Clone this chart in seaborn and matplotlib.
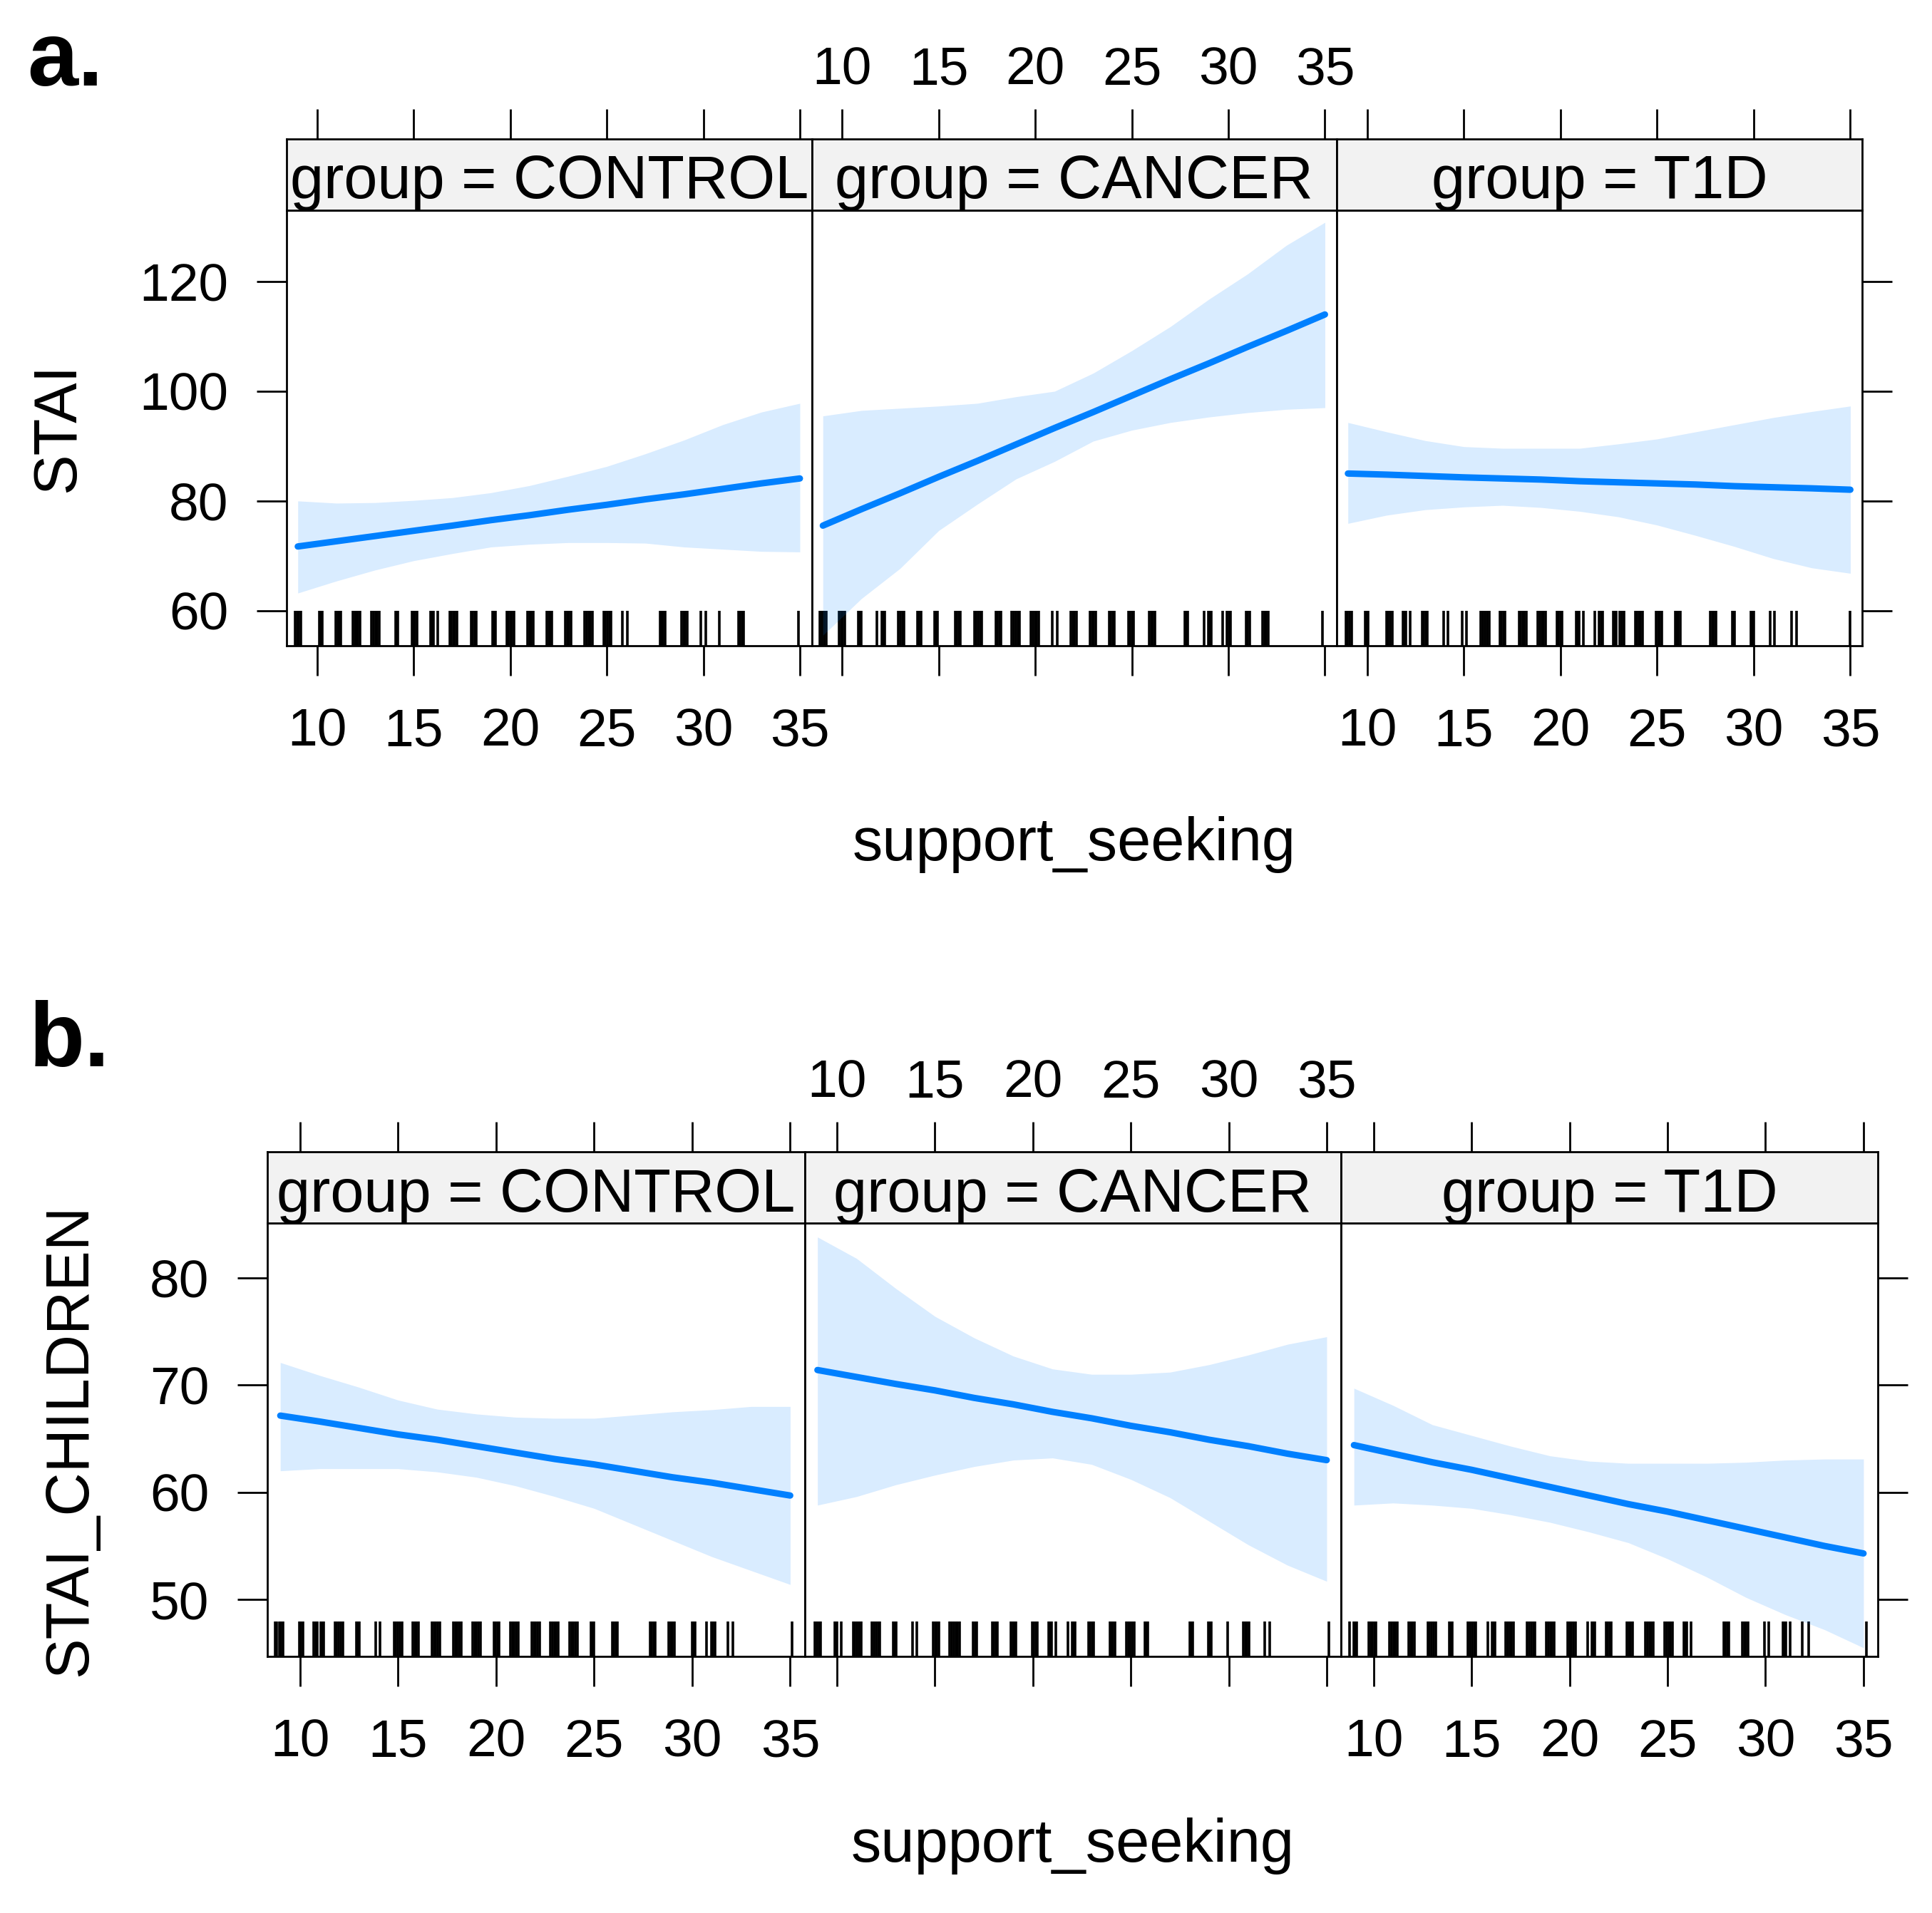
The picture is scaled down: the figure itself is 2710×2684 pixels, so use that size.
import pandas as pd
import seaborn as sns
import matplotlib.pyplot as plt

sns.set_style('white')
plt.rcParams['font.family'] = ['Liberation Sans', 'DejaVu Sans']
plt.rcParams['text.color'] = 'black'

groups = ['CONTROL', 'CANCER', 'T1D']
support_grid = [9, 11, 13, 15, 17, 19, 21, 23, 25, 27, 29, 31, 33, 35]
x_ticks = [10, 15, 20, 25, 30, 35]

# a. STAI effect of support_seeking by group (fit and 95% band)
stai_fit_control = [71.7, 72.65, 73.6, 74.56, 75.5, 76.5, 77.4, 78.4, 79.3, 80.3, 81.2, 82.2, 83.2, 84.1]
stai_lo_control = [63.2, 65.4, 67.4, 69.1, 70.4, 71.6, 72.1, 72.4, 72.4, 72.3, 71.6, 71.2, 70.8, 70.7]
stai_hi_control = [80.0, 79.6, 79.7, 80.1, 80.6, 81.5, 82.8, 84.5, 86.3, 88.6, 91.1, 93.9, 96.2, 97.8]

stai_fit_cancer = [75.5, 78.5, 81.4, 84.4, 87.3, 90.3, 93.3, 96.2, 99.2, 102.2, 105.1, 108.1, 111.0, 114.0]
stai_lo_cancer = [55.5, 62.2, 67.7, 74.6, 79.4, 84.0, 87.2, 90.9, 92.9, 94.3, 95.3, 96.1, 96.7, 97.0]
stai_hi_cancer = [95.5, 96.5, 96.9, 97.3, 97.8, 99.0, 100.0, 103.3, 107.4, 111.8, 116.8, 121.4, 126.6, 130.8]

stai_fit_t1d = [85.0, 84.8, 84.55, 84.3, 84.1, 83.9, 83.6, 83.4, 83.2, 83.0, 82.7, 82.5, 82.3, 82.05]
stai_lo_t1d = [75.9, 77.4, 78.4, 78.9, 79.2, 78.8, 78.1, 77.1, 75.6, 73.7, 71.7, 69.5, 67.8, 66.8]
stai_hi_t1d = [94.3, 92.6, 91.0, 89.9, 89.6, 89.6, 89.6, 90.4, 91.3, 92.6, 93.9, 95.2, 96.3, 97.3]

# b. STAI_CHILDREN
child_fit_control = [67.15, 66.6, 66.0, 65.4, 64.9, 64.3, 63.7, 63.1, 62.6, 62.0, 61.4, 60.9, 60.3, 59.7]
child_lo_control = [62.0, 62.2, 62.2, 62.2, 61.9, 61.4, 60.6, 59.6, 58.5, 57.0, 55.5, 54.0, 52.7, 51.4]
child_hi_control = [72.1, 70.9, 69.8, 68.6, 67.75, 67.3, 67.0, 66.9, 66.9, 67.2, 67.5, 67.7, 68.0, 68.0]

child_fit_cancer = [71.4, 70.75, 70.1, 69.5, 68.8, 68.2, 67.5, 66.9, 66.2, 65.6, 64.9, 64.3, 63.6, 63.0]
child_lo_cancer = [58.8, 59.6, 60.7, 61.6, 62.4, 63.0, 63.2, 62.6, 61.2, 59.5, 57.3, 55.1, 53.2, 51.7]
child_hi_cancer = [83.8, 81.8, 79.0, 76.4, 74.4, 72.7, 71.5, 71.0, 71.0, 71.2, 71.9, 72.8, 73.8, 74.5]

child_fit_t1d = [64.4, 63.6, 62.8, 62.1, 61.3, 60.5, 59.7, 58.9, 58.2, 57.4, 56.6, 55.8, 55.0, 54.3]
child_lo_t1d = [58.8, 59.0, 58.8, 58.5, 57.9, 57.2, 56.3, 55.3, 53.8, 52.1, 50.2, 48.6, 47.2, 45.5]
child_hi_t1d = [69.7, 68.1, 66.3, 65.3, 64.3, 63.4, 62.9, 62.7, 62.7, 62.7, 62.8, 63.0, 63.1, 63.1]

# observed (jittered) support_seeking values shown in the rugs
rug_stai_control = [8.88, 8.97, 9.06, 9.15, 10.13, 10.21, 10.28, 10.97, 11.06, 11.15, 11.24,
                    11.85, 11.95, 12.04, 12.13, 12.23, 12.82, 12.92, 13.02, 13.11, 13.21,
                    14.05, 14.12, 14.19, 14.91, 14.99, 15.08, 15.16, 15.89, 15.96, 16.04, 16.24,
                    16.86, 16.96, 17.06, 17.15, 17.25, 17.97, 18.06, 18.15, 18.24, 19.08, 19.15, 19.22,
                    19.81, 19.91, 20.0, 20.1, 20.2, 20.9, 21.0, 21.1, 21.19, 21.9, 21.99, 22.07, 22.16,
                    22.87, 22.96, 23.05, 23.14, 23.86, 23.96, 24.06, 24.15, 24.25,
                    24.84, 24.94, 25.04, 25.13, 25.23, 25.8, 26.05, 27.75, 27.84, 27.93, 28.02,
                    28.88, 28.97, 29.06, 29.15, 29.87, 30.11, 30.83, 31.82, 31.91, 32.0, 32.08, 34.94]
rug_stai_cancer = [8.86, 8.97, 9.08, 9.19, 9.85, 9.94, 10.04, 10.13, 10.83, 10.91, 10.99, 11.81,
                   12.05, 12.13, 12.21, 12.92, 13.02, 13.11, 13.21, 13.91, 13.99, 14.07,
                   14.77, 14.85, 14.93, 15.86, 15.95, 16.04, 16.13, 16.84, 16.94, 17.04, 17.14, 17.24,
                   17.95, 18.04, 18.13, 18.22, 18.79, 18.89, 18.99, 19.09, 19.19,
                   19.78, 19.88, 19.98, 20.07, 20.17, 20.89, 21.14, 21.85, 21.95, 22.04, 22.14,
                   22.84, 22.93, 23.03, 23.12, 23.82, 23.92, 24.01, 24.11, 24.82, 24.91, 25.0, 25.09,
                   25.91, 26.0, 26.09, 26.18, 27.75, 27.82, 27.9, 28.75, 28.97, 29.05, 29.13, 29.71,
                   29.94, 30.02, 30.1, 30.92, 31.01, 31.1, 31.78, 31.87, 31.96, 32.05, 34.89]
rug_stai_t1d = [8.9, 8.99, 9.09, 9.18, 9.88, 9.96, 10.04, 10.99, 11.09, 11.18, 11.28,
                11.85, 11.93, 12.01, 12.22, 12.84, 12.93, 13.02, 13.1, 13.95, 14.19, 14.92, 15.15,
                15.89, 15.99, 16.1, 16.2, 16.31, 16.86, 16.95, 17.04, 17.13,
                17.85, 17.95, 18.05, 18.14, 18.24, 18.83, 18.93, 19.03, 19.12, 19.22,
                19.81, 19.9, 19.99, 20.08, 20.8, 20.88, 20.96, 21.18, 21.79, 22.01, 22.09, 22.17,
                22.75, 22.82, 22.89, 23.08, 23.18, 23.28, 23.86, 23.96, 24.06, 24.15, 24.25,
                24.96, 25.05, 25.14, 25.23, 25.93, 26.02, 26.11, 26.2, 27.75, 27.85, 27.94, 28.04,
                28.88, 28.95, 29.02, 29.86, 29.93, 30.0, 30.86, 31.09, 31.97, 32.2, 35.0]
rug_child_control = [8.73, 8.83, 8.94, 9.04, 9.14, 9.99, 10.06, 10.14, 10.71, 10.8, 10.88,
                     11.06, 11.14, 11.22, 11.78, 11.88, 11.98, 12.08, 12.18, 12.88, 12.95, 13.03,
                     13.85, 14.1, 14.8, 14.9, 15.0, 15.1, 15.2, 15.76, 15.86, 15.95, 16.05,
                     16.74, 16.84, 16.93, 17.03, 17.12, 17.82, 17.92, 18.02, 18.12, 18.22,
                     18.8, 18.9, 19.0, 19.1, 19.2, 19.9, 19.99, 20.08, 20.17,
                     20.73, 20.83, 20.93, 21.03, 21.13, 21.82, 21.92, 22.02, 22.12, 22.22,
                     22.78, 22.88, 22.98, 23.08, 23.17, 23.75, 23.85, 23.95, 24.05, 24.15,
                     24.84, 24.92, 25.0, 25.92, 26.01, 26.1, 26.19, 27.86, 27.95, 28.04, 28.13,
                     28.82, 28.91, 29.0, 29.09, 30.01, 30.08, 30.15, 30.74, 30.97, 31.06, 31.15,
                     31.83, 32.06, 35.1]
rug_child_cancer = [8.88, 8.97, 9.07, 9.16, 9.87, 9.94, 10.01, 10.23, 10.82, 10.92, 11.02, 11.13, 11.23,
                    11.79, 11.89, 11.99, 12.09, 12.19, 12.87, 12.94, 13.01, 13.85, 14.09,
                    14.92, 15.01, 15.1, 15.19, 15.75, 15.85, 15.95, 16.06, 16.16, 16.27,
                    16.96, 17.04, 17.12, 17.93, 18.02, 18.11, 18.2, 18.88, 18.97, 19.06, 19.15,
                    19.96, 20.05, 20.14, 20.23, 20.81, 20.88, 20.95, 21.18, 21.78, 22.01, 22.08, 22.16,
                    22.84, 22.93, 23.02, 23.11, 23.92, 24.01, 24.1, 24.19,
                    24.77, 24.87, 24.97, 25.07, 25.16, 25.72, 25.8, 25.88, 28.0, 28.08, 28.15,
                    28.96, 29.04, 29.12, 29.93, 30.76, 30.85, 30.94, 31.03, 31.85, 32.1, 35.11]
rug_child_t1d = [8.76, 8.98, 9.06, 9.14, 9.76, 9.86, 9.95, 10.05, 10.14, 10.82, 10.92, 11.02, 11.12, 11.22,
                 11.8, 11.89, 11.98, 12.07, 12.76, 12.86, 12.96, 13.06, 13.16, 13.87, 13.94, 14.01,
                 14.83, 14.93, 15.03, 15.13, 15.23, 15.82, 16.04, 16.11, 16.19,
                 16.75, 16.85, 16.95, 17.05, 17.15, 17.85, 17.95, 18.05, 18.15, 18.25,
                 18.83, 18.93, 19.02, 19.12, 19.21, 19.9, 20.0, 20.1, 20.2, 20.3,
                 20.91, 21.13, 21.21, 21.29, 21.86, 21.95, 22.04, 22.13, 22.94, 23.03, 23.12, 23.22,
                 23.89, 23.99, 24.09, 24.18, 24.28, 24.86, 24.96, 25.06, 25.16, 25.26,
                 25.82, 25.9, 25.97, 26.2, 27.87, 27.96, 28.05, 28.14, 28.83, 28.92, 29.01, 29.1,
                 29.95, 30.18, 30.9, 30.97, 31.04, 31.27, 31.88, 32.21, 35.14]

W, H = 2710, 2684
BLUE = '#0080FF'
TICK = dict(length=30, width=2, direction='out', labelsize=54, color='black', labelcolor='black')

fig = plt.figure(figsize=(W / 100, H / 100), dpi=100)


def draw_row(fits, los, his, rugs, xs, top, bot, xlim, ylim, yticks):
    """One lattice-like row: strip on top of each panel, rug + band + fit inside."""
    for i, g in enumerate(groups):
        x0, x1 = xs[i], xs[i + 1]
        ax = fig.add_axes([x0 / W, 1 - bot / H, (x1 - x0) / W, (bot - top) / H])
        sax = fig.add_axes([x0 / W, 1 - top / H, (x1 - x0) / W, 100 / H])

        d = pd.DataFrame({'support_seeking': support_grid, 'fit': fits[i],
                          'lower': los[i], 'upper': his[i]})
        sns.rugplot(x=rugs[i], ax=ax, height=0.08, color='black', linewidth=2.6,
                    expand_margins=False, zorder=2)
        ax.fill_between(d['support_seeking'], d['lower'], d['upper'],
                        color=BLUE, alpha=0.15, linewidth=0, zorder=3)
        sns.lineplot(data=d, x='support_seeking', y='fit', ax=ax, color=BLUE,
                     linewidth=6.5, zorder=4)

        ax.set_xlim(xlim)
        ax.set_ylim(ylim)
        ax.set_xticks(x_ticks)
        ax.set_yticks(yticks)
        ax.set_xlabel('')
        ax.set_ylabel('')
        ax.tick_params(axis='x', bottom=True, top=False, labelbottom=(i != 1), pad=32, **TICK)
        ax.tick_params(axis='y', left=(i == 0), labelleft=(i == 0), right=(i == 2),
                       labelright=False, pad=29, **TICK)
        for sp in ax.spines.values():
            sp.set_linewidth(2)
            sp.set_color('black')

        sax.set_facecolor('#F2F2F2')
        sax.set_xlim(xlim)
        sax.set_ylim(0, 1)
        sax.set_yticks([])
        sax.set_xticks(x_ticks)
        sax.tick_params(axis='x', bottom=False, labelbottom=False, top=True,
                        labeltop=(i == 1), pad=14, **TICK)
        for sp in sax.spines.values():
            sp.set_linewidth(2)
            sp.set_color('black')
        sax.text(0.5, 0.165, 'group = ' + g, transform=sax.transAxes, ha='center',
                 va='baseline', fontsize=61, clip_on=True)


draw_row([stai_fit_control, stai_fit_cancer, stai_fit_t1d],
         [stai_lo_control, stai_lo_cancer, stai_lo_t1d],
         [stai_hi_control, stai_hi_cancer, stai_hi_t1d],
         [rug_stai_control, rug_stai_cancer, rug_stai_t1d],
         [402, 1138.5, 1875, 2612], 295, 906, (8.42, 35.61), (53.6, 133.0), [60, 80, 100, 120])

draw_row([child_fit_control, child_fit_cancer, child_fit_t1d],
         [child_lo_control, child_lo_cancer, child_lo_t1d],
         [child_hi_control, child_hi_cancer, child_hi_t1d],
         [rug_child_control, rug_child_cancer, rug_child_t1d],
         [375, 1128.5, 1881, 2634], 1716, 2324, (8.34, 35.73), (44.7, 85.1), [50, 60, 70, 80])

# labels
fig.text(82 / W, 1 - 600 / H, 'STAI', rotation=90, ha='center', va='center', fontsize=61)
fig.text(99 / W, 1 - 2020 / H, 'STAI_CHILDREN', rotation=90, ha='center', va='center', fontsize=61)
fig.text(1507 / W, 1 - 1185 / H, 'support_seeking', ha='center', va='center', fontsize=61)
fig.text(1505 / W, 1 - 2590 / H, 'support_seeking', ha='center', va='center', fontsize=61)

panel_font = ['Liberation Sans Narrow', 'Liberation Sans', 'DejaVu Sans']
fig.text(38 / W, 1 - 120 / H, 'a.', ha='left', va='baseline', fontsize=92,
         fontweight='bold', family=panel_font)
fig.text(41 / W, 1 - 1496 / H, 'b.', ha='left', va='baseline', fontsize=92,
         fontweight='bold', family=panel_font)

fig.savefig('out.png', dpi=100, facecolor='white')
